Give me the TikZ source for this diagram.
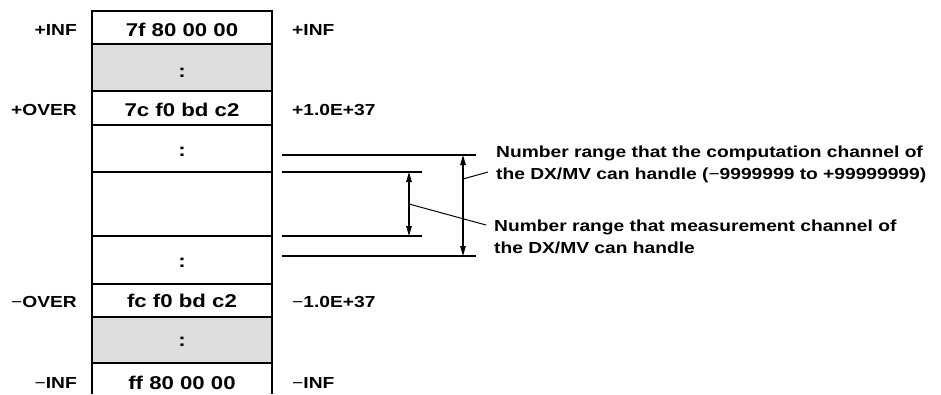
\documentclass[tikz,border=0pt]{standalone}
\usepackage{fontspec}
\setmainfont{Liberation Sans}
\usepackage{graphicx}
\usetikzlibrary{arrows.meta}
\definecolor{cellgray}{HTML}{DDDDDD}
\newcommand{\hs}[1]{\scalebox{1.2}[1]{#1}}
\newcommand{\thinminus}{{\mdseries −}}
\begin{document}
\begin{tikzpicture}[x=1pt,y=-1pt,
  val/.style={inner sep=0pt,anchor=base,font=\fontsize{18.5}{22}\selectfont\bfseries},
  lbl/.style={inner sep=0pt,font=\fontsize{16}{20}\selectfont\bfseries},
  note/.style={inner sep=0pt,anchor=base west,font=\fontsize{16}{22}\selectfont\bfseries},
  rowline/.style={line width=1.2pt},
  guide/.style={line width=1.1pt},
  rng/.style={line width=1.1pt,{Triangle[length=10pt,width=5.5pt]}-{Triangle[length=10pt,width=5.5pt]}},
  leader/.style={line width=1pt}]
\useasboundingbox (0,0) rectangle (941,394);
% table
\fill[cellgray] (92,44) rectangle (272,91);
\fill[cellgray] (92,317) rectangle (272,363);
\foreach \y in {44,91,125,172,236,284,317,363}
  \draw[rowline] (92,\y) -- (272,\y);
\draw[line width=2.2pt] (92,394) -- (92,11) -- (272,11) -- (272,394);
% cell values
\node[val] (v1) at (182,36.5) {\hs{7f 80 00 00}};
\node[val] (v2) at (182,77) {\hs{:}};
\node[val] (v3) at (182,116.5) {\hs{7c f0 bd c2}};
\node[val] (v4) at (182,156.5) {\hs{:}};
\node[val] (v6) at (182,267) {\hs{:}};
\node[val] (v7) at (182,307.5) {\hs{fc f0 bd c2}};
\node[val] (v8) at (182,346.5) {\hs{:}};
\node[val] (v9) at (182,389) {\hs{ff 80 00 00}};
% left labels
\node[lbl,anchor=base east] (l1) at (77,35.5) {\hs{+INF}};
\node[lbl,anchor=base east] (l3) at (77,115.5) {\hs{+OVER}};
\node[lbl,anchor=base east] (l7) at (77,307.5) {\hs{\thinminus OVER}};
\node[lbl,anchor=base east] (l9) at (77,388.5) {\hs{\thinminus INF}};
% right labels
\node[lbl,anchor=base west] (r1) at (292,35.5) {\hs{+INF}};
\node[lbl,anchor=base west] (r3) at (292,115.5) {\hs{+1.0E+37}};
\node[lbl,anchor=base west] (r7) at (292,307.5) {\hs{\thinminus 1.0E+37}};
\node[lbl,anchor=base west] (r9) at (292,388.5) {\hs{\thinminus INF}};
% guide lines
\coordinate (g1a) at (282,155); \coordinate (g1b) at (476,155);
\coordinate (g2a) at (282,172); \coordinate (g2b) at (422,172);
\coordinate (g3a) at (282,236); \coordinate (g3b) at (422,236);
\coordinate (g4a) at (282,256); \coordinate (g4b) at (476,256);
\draw[guide] (g1a) -- (g1b);
\draw[guide] (g2a) -- (g2b);
\draw[guide] (g3a) -- (g3b);
\draw[guide] (g4a) -- (g4b);
% range arrows
\coordinate (mTop) at (409,172); \coordinate (mBot) at (409,236);
\coordinate (cTop) at (463,155); \coordinate (cBot) at (463,256);
\draw[rng] (mTop) -- (mBot);
\draw[rng] (cTop) -- (cBot);
% notes
\node[note] (nc) at (496,157) {\hs{\begin{tabular}[t]{@{}l@{}}Number range that the computation channel of\\the DX/MV can handle (\thinminus 9999999 to +99999999)\end{tabular}}};
\node[note] (nm) at (494,231.5) {\hs{\begin{tabular}[t]{@{}l@{}}Number range that measurement channel of\\the DX/MV can handle\end{tabular}}};
% leaders
\coordinate (cL) at (463,179); \coordinate (cE) at (488,172);
\coordinate (mL) at (409,204); \coordinate (mE) at (486,225);
\draw[leader] (cL) -- (cE);
\draw[leader] (mL) -- (mE);
\end{tikzpicture}
\end{document}
